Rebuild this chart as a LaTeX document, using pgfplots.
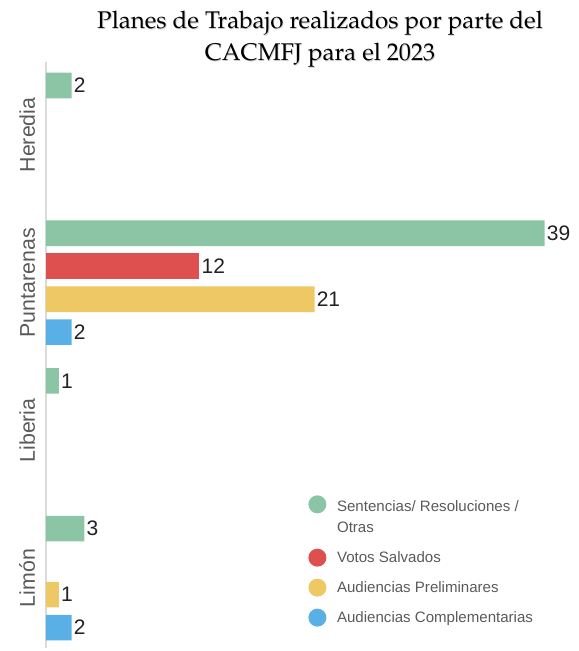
\documentclass[border=0pt]{standalone}
\usepackage[T1,TU]{fontenc}
\usepackage{fontspec}
\setmainfont{Liberation Sans}
\usepackage{pgfplots}
\pgfplotsset{compat=1.18}
\definecolor{cgreen}{HTML}{8CC4A6}
\definecolor{cred}{HTML}{DE5050}
\definecolor{cyellow}{HTML}{EEC864}
\definecolor{cblue}{HTML}{58B0E6}
\definecolor{axisgray}{HTML}{DADADA}
\definecolor{labgray}{HTML}{5A5A5A}
\definecolor{valblack}{HTML}{222222}
\begin{document}
\begin{tikzpicture}[x=0.75pt,y=0.75pt]
\path[use as bounding box] (0,0) rectangle (579,651);
\begin{axis}[
  at={(34.5pt,2.25pt)}, anchor=south west,
  scale only axis, width=385.5pt, height=439.5pt,
  xbar, bar width=0.1733,
  y dir=reverse,
  xmin=0, xmax=40.2,
  ymin=-0.494, ymax=3.473,
  axis x line=none,
  axis y line*=left,
  y axis line style={draw=axisgray, line width=0.9pt},
  ytick={0,1,2,3},
  yticklabels={Heredia,Puntarenas,Liberia,Limón},
  major tick length=0pt,
  yticklabel style={font=\fontsize{16}{19}\selectfont, text=labgray, xshift=-8.25pt, rotate=90, anchor=base},
  /pgf/number format/assume math mode=true,
  nodes near coords,
  nodes near coords style={font=\fontsize{15.75}{18}\selectfont, text=valblack, anchor=west, inner sep=1.5pt},
  clip=false,
  legend cell align=left,
  legend style={draw=none, fill=none, inner sep=0pt, at={(0.51,0.261)}, anchor=north west,
    font=\fontsize{11.3}{15.5}\selectfont, text=labgray, row sep=8.8pt, column sep=6pt,
    cells={align=left}},
]
\addplot[fill=cgreen, draw=none, bar shift=-0.335,
  legend image code/.code={\fill[cgreen] (6.75pt,9.75pt) circle (6.75pt);}]
  coordinates {(2,0) (39,1) (1,2) (3,3)};
\addlegendentry{Sentencias/ Resoluciones /\\Otras}
\addplot[fill=cred, draw=none, bar shift=-0.112,
  legend image code/.code={\fill[cred] (6.75pt,0pt) circle (6.75pt);}]
  coordinates {(12,1)};
\addlegendentry{Votos Salvados}
\addplot[fill=cyellow, draw=none, bar shift=0.112,
  legend image code/.code={\fill[cyellow] (6.75pt,0pt) circle (6.75pt);}]
  coordinates {(21,1) (1,3)};
\addlegendentry{Audiencias Preliminares}
\addplot[fill=cblue, draw=none, bar shift=0.335,
  legend image code/.code={\fill[cblue] (6.75pt,0pt) circle (6.75pt);}]
  coordinates {(2,1) (2,3)};
\addlegendentry{Audiencias Complementarias}
\end{axis}
\node[text=black!20, align=center, font=\fontencoding{T1}\fontfamily{ppl}\fontsize{18.1}{24}\selectfont] at (320.8,611.2) {Planes de Trabajo realizados por parte del\\CACMFJ para el 2023};
\node[text=black, align=center, font=\fontencoding{T1}\fontfamily{ppl}\fontsize{18.1}{24}\selectfont] at (320,612) {Planes de Trabajo realizados por parte del\\CACMFJ para el 2023};
\end{tikzpicture}
\end{document}
